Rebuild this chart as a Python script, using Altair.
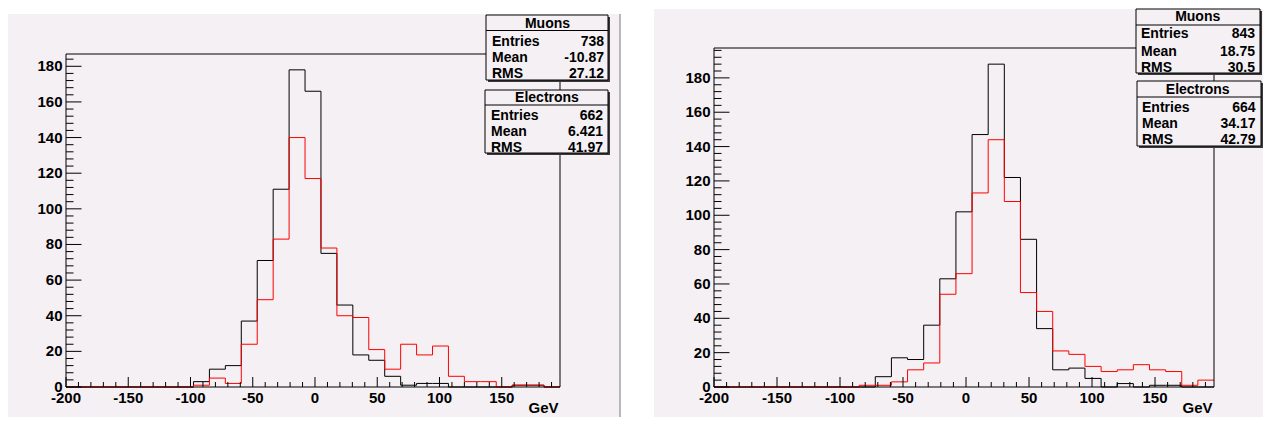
import altair as alt
import pandas as pd

# ---------------- data ----------------
LO = -200.0
BIN_W = 12.8
N_BINS = 31
HI = LO + N_BINS * BIN_W  # 196.8

LEFT_MUONS = [0, 0, 0, 0, 0, 0, 0, 0, 3, 10, 12, 37, 71, 111, 178, 166,
              75, 46, 18, 15, 6, 1, 2, 2, 0, 0, 0, 0, 1, 1, 0]
LEFT_ELECTRONS = [0, 0, 0, 0, 0, 0, 0, 0, 1, 5, 2, 24, 49, 83, 140, 117,
                  78, 40, 39, 21, 10, 24, 18, 23, 6, 3, 3, 0, 1, 1, 0]
RIGHT_MUONS = [0, 0, 0, 0, 0, 0, 0, 0, 0, 0, 6, 17, 16, 36, 63, 102,
               147, 188, 122, 86, 34, 10, 11, 5, 0, 2, 0, 1, 1, 0, 0]
RIGHT_ELECTRONS = [0, 0, 0, 0, 0, 0, 0, 0, 0, 1, 1, 3, 10, 14, 54, 66,
                   113, 144, 108, 55, 44, 21, 19, 12, 9, 10, 13, 10, 9, 1, 4]

LEFT_YMAX = 186.9    # frame top (1.05 x highest bin)
RIGHT_YMAX = 197.4

X_LABELS = [-200, -150, -100, -50, 0, 50, 100, 150]
X_MINOR = [-190, -180, -170, -160, -140, -130, -120, -110, -90, -80, -70, -60,
           -40, -30, -20, -10, 10, 20, 30, 40, 60, 70, 80, 90, 110, 120, 130,
           140, 160, 170, 180, 190]
Y_LABELS = [0, 20, 40, 60, 80, 100, 120, 140, 160, 180]
Y_MINOR = [4, 8, 12, 16, 24, 28, 32, 36, 44, 48, 52, 56, 64, 68, 72, 76, 84,
           88, 92, 96, 104, 108, 112, 116, 124, 128, 132, 136, 144, 148, 152,
           156, 164, 168, 172, 176, 184, 188, 192, 196]
X_TITLE = "GeV"

STAT_ROWS = ["Entries", "Mean", "RMS"]
MUON_TITLE = "Muons"
ELECTRON_TITLE = "Electrons"
LEFT_MU_STATS = ["738", "-10.87", "27.12"]
LEFT_EL_STATS = ["662", "6.421", "41.97"]
RIGHT_MU_STATS = ["843", "18.75", "30.5"]
RIGHT_EL_STATS = ["664", "34.17", "42.79"]

# ---------------- styling ----------------
PINK = "#f4f0f3"
FONT = "Liberation Sans"
ONE = pd.DataFrame({"a": [0]})
VIEW_H = 339   # plot-area height shared by both panels (tops are aligned)
BOTTOM = 369   # bottom edge of the canvases, below the plot-area top


def steps(counts):
    edges = [LO + i * BIN_W for i in range(N_BINS + 1)]
    return pd.DataFrame({"x": edges, "y": list(counts) + [counts[-1]]})


def vrect(x1, x2, y1, y2, **kw):
    return alt.Chart(ONE).mark_rect(**kw).encode(
        x=alt.value(x1), x2=alt.value(x2), y=alt.value(y1), y2=alt.value(y2))


def text(s, x, y, align, size=14):
    return alt.Chart(pd.DataFrame({"t": [s]})).mark_text(
        font=FONT, fontSize=size, fontWeight="bold", align=align,
        baseline="middle", color="black").encode(
        text="t:N", x=alt.value(x), y=alt.value(y))


def stat_box(title, values, box, hline, title_xy, label_x, value_x, rows_y):
    x1, x2, y1, y2 = box
    layers = [
        vrect(x1 + 2, x2 + 2, y1 + 2, y2 + 2, color="#3a3a3a"),
        vrect(x1, x2, y1, y2, fill=PINK, stroke="black", strokeWidth=1),
        alt.Chart(ONE).mark_rule(color="black", strokeWidth=1).encode(
            x=alt.value(x1), x2=alt.value(x2), y=alt.value(hline)),
        text(title, title_xy[0], title_xy[1], "center"),
    ]
    for lab, val, yy in zip(STAT_ROWS, values, rows_y):
        layers.append(text(lab, label_x, yy, "left"))
        layers.append(text(val, value_x, yy, "right"))
    return layers


def panel(mu, el, ymax, frame_h, W, bg_white, bg_pink, sep, boxes):
    H = VIEW_H
    top = ymax * H / frame_h   # scale top so the frame lands frame_h px above 0
    xs = alt.Scale(domain=[LO, HI], nice=False, zero=False)
    ys = alt.Scale(domain=[0, top], nice=False, zero=False)
    layers = [vrect(*bg_white, color="white"), vrect(*bg_pink, color=PINK)]
    if sep is not None:
        layers.append(alt.Chart(ONE).mark_rule(color="#a0a0a0", strokeWidth=1.5).encode(
            x=alt.value(sep[0]), y=alt.value(sep[1]), y2=alt.value(sep[2])))
    # histograms
    layers.append(alt.Chart(steps(mu)).mark_line(
        interpolate="step-after", color="black", strokeWidth=1).encode(
        x=alt.X("x:Q", scale=xs, axis=None), y=alt.Y("y:Q", scale=ys, axis=None)))
    layers.append(alt.Chart(steps(el)).mark_line(
        interpolate="step-after", color="#ff0000", strokeWidth=1).encode(
        x=alt.X("x:Q", scale=xs, axis=None), y=alt.Y("y:Q", scale=ys, axis=None)))
    # frame
    layers.append(alt.Chart(ONE).mark_rect(fillOpacity=0, stroke="black", strokeWidth=1).encode(
        x=alt.X(datum=LO, scale=xs, axis=None), x2=alt.X2(datum=HI),
        y=alt.Y(datum=0, scale=ys, axis=None), y2=alt.Y2(datum=ymax)))
    # inward ticks
    for vals, ln in ((X_MINOR, 5), (X_LABELS, 10)):
        layers.append(alt.Chart(pd.DataFrame({"v": vals})).mark_rule(
            color="black", strokeWidth=1).encode(
            x=alt.X("v:Q", scale=xs, axis=None), y=alt.value(H), y2=alt.value(H - ln)))
    ymin = [v for v in Y_MINOR if v < ymax]
    for vals, ln in ((ymin, 7.5), (Y_LABELS, 15.5)):
        layers.append(alt.Chart(pd.DataFrame({"v": vals})).mark_rule(
            color="black", strokeWidth=1).encode(
            y=alt.Y("v:Q", scale=ys, axis=None), x=alt.value(0), x2=alt.value(ln)))
    # tick labels
    layers.append(alt.Chart(pd.DataFrame({"v": X_LABELS, "t": [str(v) for v in X_LABELS]}))
                  .mark_text(font=FONT, fontSize=15, fontWeight="bold", align="center",
                             baseline="alphabetic", color="black")
                  .encode(text="t:N", x=alt.X("v:Q", scale=xs, axis=None),
                          y=alt.value(H + 16.4)))
    layers.append(alt.Chart(pd.DataFrame({"v": Y_LABELS, "t": [str(v) for v in Y_LABELS]}))
                  .mark_text(font=FONT, fontSize=15, fontWeight="bold", align="right",
                             baseline="middle", color="black")
                  .encode(text="t:N", y=alt.Y("v:Q", scale=ys, axis=None),
                          x=alt.value(-3.5)))
    # axis title
    layers.append(alt.Chart(pd.DataFrame({"t": [X_TITLE]})).mark_text(
        font=FONT, fontSize=15, fontWeight="bold", align="right",
        baseline="alphabetic", dx=-1.5, color="black").encode(
        text="t:N", x=alt.X(datum=HI, scale=xs, axis=None), y=alt.value(H + 26)))
    for b in boxes:
        layers.extend(stat_box(*b))
    return alt.layer(*layers).properties(width=W, height=H)


left = panel(
    LEFT_MUONS, LEFT_ELECTRONS, LEFT_YMAX, 333, 494,
    bg_white=(-58, 571, -39, BOTTOM), bg_pink=(-58, 553, -34, BOTTOM),
    sep=(554, -34, BOTTOM),
    boxes=[
        (MUON_TITLE, LEFT_MU_STATS, (420, 542, -33, 32), -17.5, (481.5, -24.5),
         426, 538, (-6.3, 10, 26.3)),
        (ELECTRON_TITLE, LEFT_EL_STATS, (419, 542, 42, 105), 57, (481, 50),
         425, 537, (68, 83.7, 99.7)),
    ])

right = panel(
    RIGHT_MUONS, RIGHT_ELECTRONS, RIGHT_YMAX, 339, 500,
    bg_white=(-77, 549, -39, BOTTOM), bg_pink=(-60, 549, -39, BOTTOM),
    sep=None,
    boxes=[
        (MUON_TITLE, RIGHT_MU_STATS, (422, 546, -39, 25), -23, (483.7, -31),
         427, 541, (-13.7, 3.7, 20.3)),
        (ELECTRON_TITLE, RIGHT_EL_STATS, (423, 547, 33, 98), 49, (483.7, 42.3),
         428, 541.5, (59.7, 75.7, 92.3)),
    ])

chart = alt.hconcat(left, right, spacing=0).properties(
    padding=0, background="white").configure_view(strokeWidth=0)

chart.save("out.html", embed_options={"renderer": "svg", "actions": False})
